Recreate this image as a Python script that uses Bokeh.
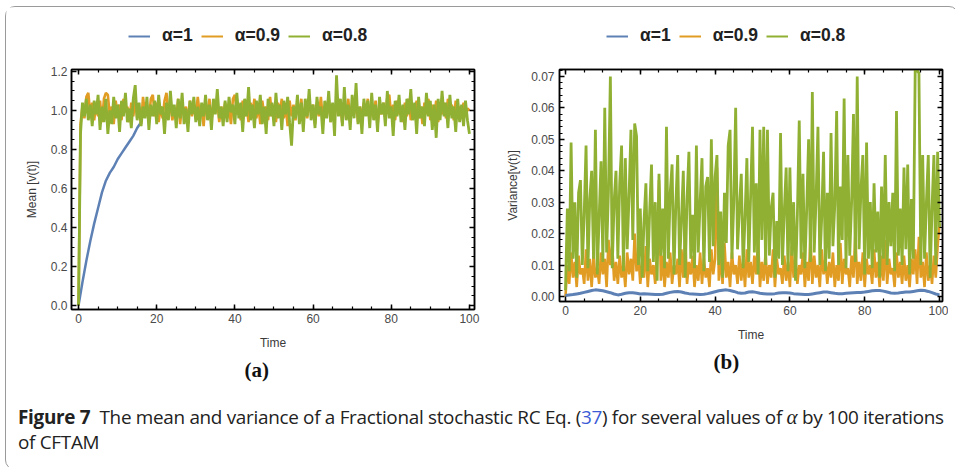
from bokeh.plotting import figure
from bokeh.models import (Range1d, LinearAxis, Legend, LegendItem, Title, Div,
                          SingleIntervalTicker, NumeralTickFormatter)
from bokeh.layouts import row, column
from bokeh.embed import file_html
from bokeh.resources import INLINE

# ---------------- data ----------------
DT_NOISY = 0.5   # sampling step of the noisy series (time units)
DT_SMOOTH = 1.0  # sampling step of the smooth series

LABELS = ["\u03b1=1", "\u03b1=0.9", "\u03b1=0.8"]
COLORS = ["#5E81B5", "#E19C24", "#8FB032"]

X_TICK_STEP = 20

# panel (a): mean
BLUE_A = [0.00, 0.12, 0.23, 0.33, 0.42, 0.50, 0.58, 0.64, 0.68, 0.71,
          0.75, 0.78, 0.81, 0.84, 0.87, 0.91, 0.94]

ORANGE_A = [
    0.00, 0.93, 1.02, 0.96, 1.07, 1.09, 0.98, 1.04, 0.95, 1.03, 0.97, 1.05, 0.94, 1.06, 1.09, 1.08, 0.97, 1.02, 0.93, 1.05,
    0.98, 1.03, 0.95, 1.06, 0.99, 1.02, 0.94, 1.04, 0.97, 1.05, 0.96, 1.01, 0.93, 1.07, 0.98, 1.03, 0.95, 1.06, 1.08, 0.97,
    1.04, 0.94, 1.02, 0.96, 1.05, 1.09, 0.98, 1.03, 0.95, 1.01, 0.97, 1.06, 0.93, 1.04, 0.99, 1.02, 0.94, 1.05, 0.97, 1.03,
    0.96, 1.07, 0.98, 1.02, 0.92, 1.04, 0.97, 1.06, 0.95, 1.03, 0.99, 1.05, 0.94, 1.02, 0.97, 1.04, 0.96, 1.01, 0.93, 1.06,
    1.08, 0.98, 1.03, 0.95, 1.05, 0.97, 1.02, 0.94, 1.04, 0.99, 1.06, 0.96, 1.03, 0.93, 1.05, 0.98, 1.02, 0.95, 1.07, 0.97,
    1.03, 0.94, 1.04, 0.99, 1.06, 0.96, 1.02, 0.92, 1.05, 0.97, 1.03, 0.95, 1.04, 0.98, 1.06, 0.94, 1.02, 0.96, 1.05, 0.99,
    1.03, 0.93, 1.04, 0.97, 1.07, 0.95, 1.02, 0.98, 1.06, 0.94, 1.03, 0.96, 1.05, 0.99, 1.02, 0.93, 1.04, 0.97, 1.06, 0.95,
    1.03, 0.98, 1.05, 0.94, 1.02, 0.96, 1.04, 0.99, 1.06, 0.95, 1.03, 0.97, 1.05, 0.93, 1.02, 0.98, 1.04, 0.96, 1.07, 1.08,
    0.97, 1.03, 0.95, 1.05, 0.98, 1.02, 0.94, 1.04, 0.97, 1.06, 0.95, 1.03, 0.99, 1.05, 0.96, 1.02, 0.93, 1.04, 0.98, 1.06,
    0.95, 1.03, 0.97, 1.05, 0.94, 1.02, 0.98, 1.04, 0.96, 1.06, 0.99, 1.03, 0.95, 1.05, 0.97, 1.02, 0.96, 1.04, 0.98, 1.01,
    1.00]

GREEN_A = [
    0.00, 0.88, 1.04, 0.97, 1.06, 0.95, 1.03, 0.92, 1.05, 0.98, 1.08, 0.90, 1.02, 0.94, 1.06, 0.88, 1.00, 0.93, 1.07, 0.96,
    1.03, 0.89, 1.05, 0.97, 1.09, 0.94, 1.01, 0.91, 1.06, 1.13, 0.95, 1.04, 0.92, 1.02, 0.96, 1.07, 0.90, 1.03, 0.97, 1.05,
    0.93, 1.08, 0.98, 1.02, 0.88, 1.04, 0.95, 1.10, 0.97, 1.03, 0.91, 1.06, 0.96, 1.09, 0.93, 1.01, 0.89, 1.05, 0.98, 1.07,
    0.94, 1.02, 0.92, 1.04, 0.97, 1.08, 0.95, 1.03, 0.90, 1.06, 0.98, 1.11, 0.96, 1.02, 0.92, 1.05, 0.94, 1.07, 0.99, 1.03,
    0.93, 1.09, 0.96, 1.04, 0.89, 1.06, 0.97, 1.12, 0.95, 1.03, 0.91, 1.05, 0.98, 1.08, 0.93, 1.02, 0.88, 1.06, 0.97, 1.04,
    0.92, 1.09, 0.96, 1.03, 0.90, 1.05, 0.98, 1.07, 0.94, 0.82, 1.02, 0.96, 1.08, 0.93, 1.04, 0.89, 1.06, 0.97, 1.11, 0.95,
    1.03, 0.91, 1.07, 0.98, 1.02, 0.88, 1.05, 0.96, 1.10, 0.94, 1.04, 0.87, 1.18, 0.97, 1.06, 0.92, 1.12, 0.95, 1.03, 0.90,
    1.08, 0.96, 1.14, 0.93, 1.02, 0.88, 1.06, 0.97, 1.05, 0.91, 1.09, 0.95, 1.03, 0.89, 1.07, 0.98, 1.04, 0.92, 1.10, 0.96,
    1.02, 0.87, 1.05, 0.97, 1.08, 0.94, 1.03, 0.90, 1.06, 0.98, 1.11, 0.95, 1.04, 0.88, 1.07, 0.96, 1.02, 0.92, 1.09, 0.97,
    1.05, 0.90, 1.03, 0.86, 1.06, 0.95, 1.10, 0.97, 1.04, 0.91, 1.08, 0.96, 1.02, 0.89, 1.06, 0.94, 1.03, 0.92, 1.05, 0.95,
    0.88]

# panel (b): variance
BLUE_B = [
    0.0003, 0.0005, 0.0006, 0.0008, 0.0010, 0.0013, 0.0016, 0.0019, 0.0021, 0.0020,
    0.0018, 0.0015, 0.0012, 0.0008, 0.0005, 0.0007, 0.0010, 0.0012, 0.0012, 0.0010,
    0.0008, 0.0009, 0.0008, 0.0007, 0.0006, 0.0006, 0.0007, 0.0010, 0.0013, 0.0015,
    0.0016, 0.0014, 0.0011, 0.0009, 0.0008, 0.0007, 0.0006, 0.0007, 0.0009, 0.0012,
    0.0015, 0.0018, 0.0020, 0.0021, 0.0019, 0.0016, 0.0012, 0.0010, 0.0011, 0.0014,
    0.0015, 0.0013, 0.0010, 0.0009, 0.0008, 0.0008, 0.0009, 0.0011, 0.0012, 0.0012,
    0.0011, 0.0009, 0.0008, 0.0007, 0.0006, 0.0006, 0.0008, 0.0010, 0.0012, 0.0014,
    0.0014, 0.0012, 0.0010, 0.0009, 0.0009, 0.0010, 0.0011, 0.0012, 0.0013, 0.0013,
    0.0014, 0.0016, 0.0018, 0.0019, 0.0019, 0.0017, 0.0014, 0.0011, 0.0010, 0.0011,
    0.0013, 0.0014, 0.0014, 0.0016, 0.0018, 0.0020, 0.0019, 0.0016, 0.0012, 0.0008,
    0.0005]

ORANGE_B = [
    0.000, 0.010, 0.004, 0.014, 0.006, 0.011, 0.003, 0.013, 0.007, 0.009, 0.004, 0.015, 0.005, 0.012, 0.003, 0.013, 0.006, 0.009, 0.004, 0.014,
    0.007, 0.012, 0.003, 0.018, 0.010, 0.016, 0.005, 0.011, 0.004, 0.013, 0.006, 0.010, 0.003, 0.014, 0.007, 0.012, 0.005, 0.020, 0.008, 0.013,
    0.004, 0.011, 0.006, 0.016, 0.003, 0.012, 0.007, 0.010, 0.004, 0.015, 0.037, 0.005, 0.013, 0.003, 0.011, 0.006, 0.014, 0.004, 0.010, 0.007,
    0.012, 0.003, 0.015, 0.006, 0.019, 0.004, 0.011, 0.007, 0.013, 0.003, 0.010, 0.005, 0.014, 0.004, 0.012, 0.006, 0.009, 0.003, 0.015, 0.007,
    0.012, 0.041, 0.005, 0.013, 0.004, 0.017, 0.006, 0.011, 0.003, 0.014, 0.007, 0.010, 0.004, 0.013, 0.005, 0.012, 0.003, 0.015, 0.006, 0.011,
    0.004, 0.013, 0.007, 0.018, 0.003, 0.011, 0.005, 0.014, 0.004, 0.010, 0.006, 0.015, 0.003, 0.012, 0.007, 0.009, 0.004, 0.013, 0.005, 0.011,
    0.003, 0.016, 0.006, 0.012, 0.004, 0.010, 0.007, 0.014, 0.003, 0.011, 0.005, 0.019, 0.004, 0.013, 0.006, 0.010, 0.003, 0.015, 0.007, 0.012,
    0.004, 0.011, 0.006, 0.014, 0.003, 0.010, 0.005, 0.017, 0.004, 0.012, 0.007, 0.009, 0.003, 0.013, 0.006, 0.020, 0.004, 0.011, 0.005, 0.014,
    0.003, 0.012, 0.007, 0.010, 0.004, 0.015, 0.006, 0.011, 0.003, 0.013, 0.005, 0.018, 0.004, 0.012, 0.007, 0.009, 0.003, 0.014, 0.006, 0.011,
    0.004, 0.013, 0.005, 0.010, 0.003, 0.012, 0.007, 0.015, 0.004, 0.019, 0.006, 0.011, 0.003, 0.014, 0.005, 0.010, 0.004, 0.013, 0.006, 0.016,
    0.023]

GREEN_B = [
    0.002, 0.028, 0.008, 0.049, 0.012, 0.030, 0.006, 0.033, 0.037, 0.010, 0.026, 0.048, 0.009, 0.031, 0.040, 0.012, 0.053, 0.007, 0.025, 0.043,
    0.011, 0.060, 0.014, 0.034, 0.070, 0.009, 0.030, 0.040, 0.012, 0.036, 0.048, 0.008, 0.044, 0.015, 0.032, 0.053, 0.018, 0.055, 0.051, 0.010,
    0.028, 0.006, 0.024, 0.036, 0.008, 0.027, 0.042, 0.011, 0.030, 0.005, 0.039, 0.013, 0.028, 0.009, 0.054, 0.012, 0.033, 0.042, 0.007, 0.029,
    0.045, 0.010, 0.024, 0.040, 0.006, 0.031, 0.046, 0.012, 0.026, 0.009, 0.048, 0.014, 0.030, 0.044, 0.008, 0.035, 0.038, 0.011, 0.050, 0.016,
    0.038, 0.045, 0.010, 0.027, 0.006, 0.033, 0.017, 0.048, 0.053, 0.012, 0.030, 0.060, 0.015, 0.028, 0.039, 0.009, 0.025, 0.044, 0.011, 0.032,
    0.054, 0.014, 0.036, 0.007, 0.053, 0.018, 0.054, 0.010, 0.053, 0.013, 0.028, 0.033, 0.006, 0.024, 0.012, 0.052, 0.010, 0.027, 0.041, 0.008,
    0.041, 0.013, 0.030, 0.005, 0.026, 0.056, 0.012, 0.039, 0.009, 0.028, 0.050, 0.011, 0.065, 0.014, 0.031, 0.054, 0.010, 0.025, 0.046, 0.008,
    0.033, 0.012, 0.052, 0.016, 0.029, 0.059, 0.010, 0.035, 0.018, 0.063, 0.009, 0.045, 0.013, 0.030, 0.058, 0.011, 0.070, 0.015, 0.034, 0.045,
    0.007, 0.049, 0.012, 0.030, 0.009, 0.036, 0.014, 0.027, 0.006, 0.035, 0.012, 0.045, 0.010, 0.030, 0.016, 0.033, 0.008, 0.059, 0.013, 0.028,
    0.010, 0.041, 0.015, 0.042, 0.007, 0.031, 0.012, 0.072, 0.072, 0.071, 0.010, 0.045, 0.012, 0.030, 0.045, 0.006, 0.028, 0.045, 0.010, 0.046,
    0.022]


def times(vals, dt):
    return [i * dt for i in range(len(vals))]


TICK_FONT = "Liberation Sans"
NAN = float("nan")


def style_frame(p, yticker, yfmt, xlabel, ylabel, ylab_standoff, ylab_gap):
    bottom = p.below[0]
    left = p.left[0]
    xt = SingleIntervalTicker(interval=X_TICK_STEP, num_minor_ticks=4)
    bottom.ticker = xt
    left.ticker = yticker
    left.formatter = NumeralTickFormatter(format=yfmt)
    p.xgrid.visible = False
    p.ygrid.visible = False
    p.outline_line_color = "black"
    p.outline_line_width = 1.5
    top = LinearAxis(ticker=xt)
    right = LinearAxis(ticker=yticker)
    p.add_layout(top, "above")
    p.add_layout(right, "right")
    for ax in [bottom, left, top, right]:
        ax.axis_line_color = "black"
        ax.axis_line_width = 1.5
        ax.major_tick_in = 5
        ax.major_tick_out = 0
        ax.minor_tick_in = 3
        ax.minor_tick_out = 0
        ax.major_tick_line_width = 1.5
        ax.minor_tick_line_width = 1.2
        ax.major_tick_line_color = "black"
        ax.minor_tick_line_color = "black"
        ax.major_label_text_font = TICK_FONT
        ax.major_label_text_font_size = "12px"
        ax.major_label_text_color = "#4a4a4a"
        ax.axis_label_text_font = TICK_FONT
        ax.axis_label_text_font_size = "12px"
        ax.axis_label_text_font_style = "normal"
        ax.axis_label_text_color = "#3a3a3a"
    for ax in [top, right]:
        ax.major_label_text_font_size = "0px"
        ax.major_label_standoff = 0
    bottom.axis_label = xlabel
    left.axis_label = ylabel
    bottom.major_label_standoff = 4
    bottom.axis_label_standoff = 10
    left.major_label_standoff = ylab_standoff
    left.axis_label_standoff = ylab_gap


def legend_strip(width, widths, loc):
    """A thin figure that only carries the horizontal legend above a panel."""
    lf = figure(width=width, height=44, x_range=Range1d(0, 1), y_range=Range1d(0, 1),
                x_axis_type=None, y_axis_type=None, min_border=0,
                output_backend="svg", toolbar_location=None)
    lf.outline_line_color = None
    lf.xgrid.visible = False
    lf.ygrid.visible = False
    # legend-only renderers: a single missing point, so nothing is drawn in the strip
    rs = [lf.line(x=[NAN], y=[NAN], line_color=c, line_width=w) for c, w in zip(COLORS, widths)]
    items = [LegendItem(label=l, renderers=[r]) for l, r in zip(LABELS, rs)]
    lg = Legend(items=items, orientation="horizontal", location=loc,
                border_line_color=None, background_fill_alpha=0,
                label_text_font="Liberation Sans", label_text_font_style="bold",
                label_text_font_size="17.5px", label_text_color="#222222",
                glyph_width=22, glyph_height=20, label_height=20,
                label_standoff=12, spacing=8, padding=0, margin=0)
    lf.add_layout(lg)
    return lf


# ---------------- panel (a) ----------------
pa = figure(width=496, height=340, frame_width=403, frame_height=240,
            min_border_left=65, min_border_right=28, min_border_top=16, min_border_bottom=84,
            x_range=Range1d(-1.8, 101.3), y_range=Range1d(-0.02, 1.21),
            output_backend="svg", toolbar_location=None)
pa.line(times(BLUE_A, DT_SMOOTH), BLUE_A, line_color=COLORS[0], line_width=2.5)
pa.line(times(ORANGE_A, DT_NOISY), ORANGE_A, line_color=COLORS[1], line_width=2.6)
pa.line(times(GREEN_A, DT_NOISY), GREEN_A, line_color=COLORS[2], line_width=2.8)
style_frame(pa, SingleIntervalTicker(interval=0.2, num_minor_ticks=4), "0.0",
            "Time", "Mean [v(t)]", 4, 9)
pa.add_layout(Title(text="(a)", align="left", offset=173, text_font="Liberation Serif",
                    text_font_size="21px", text_font_style="bold", text_color="#111111",
                    standoff=6), "below")
la = legend_strip(496, [2.0, 2.0, 2.0], (122, 5))

# ---------------- panel (b) ----------------
pb = figure(width=446, height=340, frame_width=383, frame_height=232,
            min_border_left=57, min_border_right=6, min_border_top=18, min_border_bottom=90,
            x_range=Range1d(-1.6, 100.8), y_range=Range1d(-0.0016, 0.0722),
            output_backend="svg", toolbar_location=None)
pb.line(times(ORANGE_B, DT_NOISY), ORANGE_B, line_color=COLORS[1], line_width=2.6)
pb.line(times(GREEN_B, DT_NOISY), GREEN_B, line_color=COLORS[2], line_width=2.8)
pb.line(times(BLUE_B, DT_SMOOTH), BLUE_B, line_color=COLORS[0], line_width=3)
style_frame(pb, SingleIntervalTicker(interval=0.01, num_minor_ticks=5), "0.00",
            "Time", "Variance[v(t)]", 5, 8)
pb.add_layout(Title(text="(b)", align="left", offset=154, text_font="Liberation Serif",
                    text_font_size="21px", text_font_style="bold", text_color="#111111",
                    standoff=7), "below")
lb = legend_strip(446, [2.0, 2.0, 2.0], (104, 5))

# ---------------- caption ----------------
caption = Div(
    text=("<div style=\"font-family:'Open Sans';font-size:18.9px;line-height:25px;color:#222;"
          "white-space:nowrap;letter-spacing:-0.3px;padding:9px 0 0 7px;\">"
          "<b>Figure 7</b>&nbsp; The mean and variance of a Fractional stochastic RC Eq. "
          "(<span style=\"color:#3b5bd6\">37</span>) for several values of "
          "<i style=\"font-family:'Liberation Serif';font-size:21px\">\u03b1</i> by 100 iterations<br>"
          "of CFTAM</div>"),
    width=942, height=68)

layout = column(row(la, lb), row(pa, pb), caption,
                styles={"border": "1.5px solid #9a9a9a", "border-radius": "10px",
                        "margin-left": "5px", "margin-top": "6px"})

open("out.html", "w").write(file_html(layout, INLINE))
